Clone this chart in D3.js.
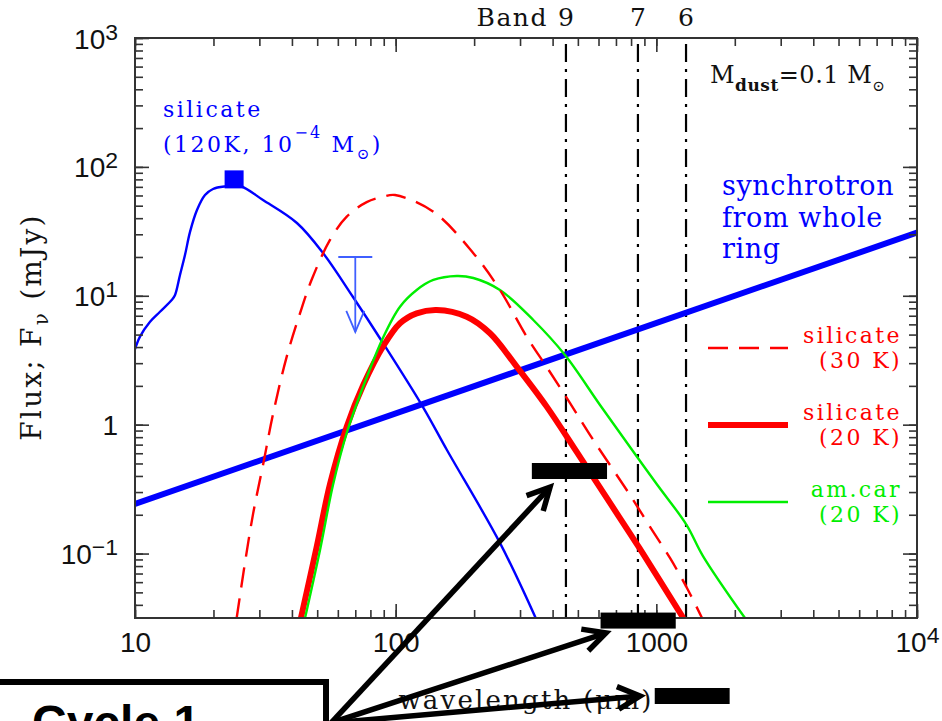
<!DOCTYPE html>
<html><head><meta charset="utf-8">
<script src="https://cdn.jsdelivr.net/npm/d3@7"></script>
<style>
html,body{margin:0;padding:0;background:#fff;overflow:hidden}
svg{display:block}
</style></head><body>
<svg id="chart" width="942" height="721"></svg>
<script>
// ---------------- data (wavelength in micron, flux in mJy) ----------------
const xDomain = [10, 10000];
const yDomain = [0.0316228, 1000];
const xTickVals = [10, 100, 1000, 10000];
const xTickLabels = ["10", "100", "1000", "10^4"];
const yTickVals = [0.1, 1, 10, 100, 1000];
const yTickLabels = ["10^\u22121", "1", "10^1", "10^2", "10^3"];

const syncWave = [10, 10000];
const syncFlux = [0.243, 30.9];

const sil120Wave = [10.0, 10.45, 11.42, 12.47, 13.83, 14.23, 14.88, 15.55, 16.26, 17.29, 18.56, 19.92, 22.14, 25.3, 30.97, 41.8, 52.6, 68.6, 89.4, 127.3, 157.3, 251.2, 344.5];
const sil120Flux = [3.86, 4.82, 6.29, 7.52, 9.28, 10.1, 14.5, 20.7, 31.3, 46.3, 60.5, 67.4, 70.5, 71.1, 55.3, 36.7, 21.5, 9.78, 4.30, 1.37, 0.636, 0.121, 0.0316];

const sil30Wave = [24.55, 26.4, 28.4, 31.07, 33.9, 38.2, 42.95, 47.6, 55.98, 64.9, 77.4, 89.7, 99.4, 139.5, 198.6, 251.2, 318.2, 379.7, 466.6, 573.2, 792, 946, 1128, 1323, 1497];
const sil30Flux = [0.0316, 0.084, 0.205, 0.50, 1.225, 3.37, 7.31, 13.3, 27.1, 41.1, 53.3, 58.7, 60.5, 44.9, 21.4, 11.1, 4.82, 2.80, 1.47, 0.760, 0.285, 0.161, 0.0924, 0.0522, 0.0316];

const sil20Wave = [43.3, 49.8, 56.0, 64.9, 75.1, 89.7, 103.9, 120.4, 143.7, 187.3, 230.1, 291.3, 379.7, 495.0, 664.1, 865.6, 1269];
const sil20Flux = [0.0316, 0.113, 0.3465, 0.965, 2.03, 4.08, 6.12, 7.31, 7.76, 6.88, 5.12, 2.82, 1.38, 0.614, 0.247, 0.1085, 0.0316];

const amcarWave = [44.9, 51.26, 57.48, 65.07, 72.98, 89.7, 103.9, 120.4, 139.5, 171.5, 198.6, 251.2, 337.3, 446.3, 608, 792.4, 1003, 1307, 1510, 2188];
const amcarFlux = [0.0316, 0.1066, 0.340, 0.877, 1.70, 4.79, 8.23, 11.09, 13.26, 14.24, 13.74, 11.09, 6.49, 3.47, 1.421, 0.671, 0.3465, 0.1665, 0.0957, 0.0316];

const peakWave = [24];
const peakFlux = [80];
const limitWave = [70];
const limitFlux = [20];

const bandNames = ["9", "7", "6"];
const bandWaves = [450, 850, 1300];

const legendNames = ["silicate", "silicate", "am.car"];
const legendTemps = ["(30 K)", "(20 K)", "(20 K)"];

// overlay annotation (in data coordinates)
const sensLo = [333, 611, 986];
const sensHi = [647, 1187, 1911];
const sensFlux = [0.437, 0.0302, 0.00785];
const arrowFromWave = 56.5, arrowFromFlux = 0.00485;
const arrowToWave = [391, 641, 866];
const arrowToFlux = [0.328, 0.0242, 0.00785];
const boxWave = 54.05, boxFlux = 0.01008;

// ---------------- drawing ----------------
const svg = d3.select("#chart");
const W = 942, H = 721;
const margin = {left: 135, right: 25, top: 38, bottom: 103};
const x = d3.scaleLog().domain(xDomain).range([margin.left, W - margin.right]);
const y = d3.scaleLog().domain(yDomain).range([H - margin.bottom, margin.top]);
const [X0, X1] = x.range();
const [Y0, Y1] = [y.range()[1], y.range()[0]];

const BLUE = "#0000ff", RED = "#ff0000", GREEN = "#00ee00";
const SERIF = "'DejaVu Serif', serif";
const SANS = "'Liberation Sans', Arial, sans-serif";

svg.append("rect").attr("width", W).attr("height", H).attr("fill", "#fff");

svg.append("defs").append("clipPath").attr("id", "plot")
  .append("rect").attr("x", X0).attr("y", Y0).attr("width", X1 - X0).attr("height", Y1 - Y0);

const zip = (a, b) => a.map((v, i) => [v, b[i]]);
const line = d3.line().x(d => x(d[0])).y(d => y(d[1])).curve(d3.curveCatmullRom.alpha(0.5));

// band lines
const bandG = svg.append("g");
bandWaves.forEach((w, i) => {
  bandG.append("line").attr("x1", x(w)).attr("x2", x(w)).attr("y1", Y0 + 6).attr("y2", Y1)
    .attr("stroke", "#000").attr("stroke-width", 2.2).attr("stroke-dasharray", "18,7,3,7");
  bandG.append("text").attr("x", x(w)).attr("y", 26).attr("text-anchor", "middle")
    .attr("font-family", SERIF).attr("font-size", 25).attr("fill", "#111").text(bandNames[i]);
});
bandG.append("text").attr("x", x(bandWaves[0]) - 18).attr("y", 26).attr("text-anchor", "end")
  .attr("font-family", SERIF).attr("font-size", 25).attr("letter-spacing", 1.5).attr("fill", "#111").text("Band");

// curves
const curves = svg.append("g").attr("clip-path", "url(#plot)");
curves.append("path").datum(zip(syncWave, syncFlux)).attr("d", line)
  .attr("fill", "none").attr("stroke", BLUE).attr("stroke-width", 6);
curves.append("path").datum(zip(sil120Wave, sil120Flux)).attr("d", line)
  .attr("fill", "none").attr("stroke", BLUE).attr("stroke-width", 2.4);
curves.append("path").datum(zip(sil20Wave, sil20Flux)).attr("d", line)
  .attr("fill", "none").attr("stroke", RED).attr("stroke-width", 6);
curves.append("path").datum(zip(amcarWave, amcarFlux)).attr("d", line)
  .attr("fill", "none").attr("stroke", GREEN).attr("stroke-width", 2.4);
curves.append("path").datum(zip(sil30Wave, sil30Flux)).attr("d", line)
  .attr("fill", "none").attr("stroke", RED).attr("stroke-width", 2.4).attr("stroke-dasharray", "20,11");

// peak square
peakWave.forEach((w, i) => {
  svg.append("rect").attr("x", x(w) - 9.5).attr("y", y(peakFlux[i]) - 9).attr("width", 19).attr("height", 18)
    .attr("fill", BLUE);
});
// upper limit
limitWave.forEach((w, i) => {
  const cx = x(w), cy = y(limitFlux[i]);
  const g = svg.append("g").attr("stroke", "#3f5fff").attr("stroke-width", 1.8).attr("fill", "none");
  g.append("line").attr("x1", cx - 17).attr("x2", cx + 17).attr("y1", cy).attr("y2", cy);
  g.append("line").attr("x1", cx).attr("x2", cx).attr("y1", cy).attr("y2", cy + 75);
  g.append("path").attr("d", `M${cx - 9},${cy + 54} L${cx},${cy + 75} L${cx + 9},${cy + 54}`);
});

// axes
const axisColor = "#333";
function styleAxis(g) {
  g.select(".domain").remove();
  g.selectAll(".tick line").attr("stroke", axisColor).attr("stroke-width", 1.6);
  g.selectAll(".tick text").remove();
}
const xMinor = x.ticks(), yMinor = y.ticks();
svg.append("g").attr("transform", `translate(0,${Y1})`)
  .call(d3.axisBottom(x).tickValues(xMinor).tickSize(-8).tickFormat("")).call(styleAxis);
svg.append("g").attr("transform", `translate(0,${Y0})`)
  .call(d3.axisTop(x).tickValues(xMinor).tickSize(-8).tickFormat("")).call(styleAxis);
svg.append("g").attr("transform", `translate(${X0},0)`)
  .call(d3.axisLeft(y).tickValues(yMinor).tickSize(-8).tickFormat("")).call(styleAxis);
svg.append("g").attr("transform", `translate(${X1},0)`)
  .call(d3.axisRight(y).tickValues(yMinor).tickSize(-8).tickFormat("")).call(styleAxis);

const xMajB = svg.append("g").attr("transform", `translate(0,${Y1})`)
  .call(d3.axisBottom(x).tickValues(xTickVals).tickSize(-14).tickFormat("")).call(styleAxis);
svg.append("g").attr("transform", `translate(0,${Y0})`)
  .call(d3.axisTop(x).tickValues(xTickVals).tickSize(-14).tickFormat("")).call(styleAxis);
const yMajL = svg.append("g").attr("transform", `translate(${X0},0)`)
  .call(d3.axisLeft(y).tickValues(yTickVals).tickSize(-14).tickFormat("")).call(styleAxis);
svg.append("g").attr("transform", `translate(${X1},0)`)
  .call(d3.axisRight(y).tickValues(yTickVals).tickSize(-14).tickFormat("")).call(styleAxis);

function powLabel(t, s, fs) {
  const [b, e] = s.split("^");
  t.append("tspan").text(b);
  if (e) t.append("tspan").attr("dy", -9).attr("font-size", fs * 0.82).text(e);
}
xMajB.selectAll(".tick").each(function (d, i) {
  const t = d3.select(this).append("text").attr("x", 0).attr("y", 34)
    .attr("text-anchor", "middle").attr("font-family", SANS).attr("font-size", 28).attr("fill", "#111");
  powLabel(t, xTickLabels[i], 28);
});
yMajL.selectAll(".tick").each(function (d, i) {
  const t = d3.select(this).append("text").attr("x", -17).attr("y", 10)
    .attr("text-anchor", "end").attr("font-family", SANS).attr("font-size", 28).attr("fill", "#111");
  powLabel(t, yTickLabels[i], 28);
});

// frame
svg.append("rect").attr("x", X0).attr("y", Y0).attr("width", X1 - X0).attr("height", Y1 - Y0)
  .attr("fill", "none").attr("stroke", axisColor).attr("stroke-width", 2);

// y axis title
const yt = svg.append("text").attr("transform", `translate(41,327) rotate(-90)`)
  .attr("text-anchor", "middle").attr("font-family", SERIF).attr("font-size", 28)
  .attr("letter-spacing", 2.2).attr("fill", "#111");
yt.append("tspan").text("Flux; F");
yt.append("tspan").attr("dy", 7).attr("font-size", 20).text("\u03bd");
yt.append("tspan").attr("dy", -7).text(" (mJy)");

// blue annotation
const ba = svg.append("g").attr("fill", BLUE).attr("font-family", SERIF);
ba.append("text").attr("x", 163).attr("y", 117).attr("font-size", 22).attr("letter-spacing", 2.5).text("silicate");
const ba2 = ba.append("text").attr("x", 163).attr("y", 152).attr("font-size", 22).attr("letter-spacing", 2.5);
ba2.append("tspan").text("(120K, 10");
ba2.append("tspan").attr("dy", -14).attr("font-size", 16).attr("letter-spacing", 2).text("\u22124");
ba2.append("tspan").attr("dy", 14).text(" M");
ba2.append("tspan").attr("dy", 7).attr("font-size", 15).text("\u2299");
ba2.append("tspan").attr("dy", -7).text(")");

const sy = svg.append("g").attr("fill", BLUE).attr("font-family", SERIF).attr("font-size", 27).attr("letter-spacing", 0.6);
["synchrotron", "from whole", "ring"].forEach((s, i) => {
  sy.append("text").attr("x", 722).attr("y", 195 + i * 31.5).text(s);
});

// M_dust label
const md = svg.append("text").attr("x", 710).attr("y", 83).attr("font-family", SERIF)
  .attr("font-size", 24).attr("fill", "#111").attr("letter-spacing", 0.5);
md.append("tspan").text("M");
md.append("tspan").attr("dy", 8).attr("font-size", 17).attr("font-weight", "bold").text("dust");
md.append("tspan").attr("dy", -8).text("=0.1 M");
md.append("tspan").attr("dy", 8).attr("font-size", 15).text("\u2299");

// legend
const legendStyles = [
  {color: RED, width: 2.4, dash: "20,11"},
  {color: RED, width: 6, dash: null},
  {color: GREEN, width: 2.4, dash: null}
];
legendNames.forEach((n, i) => {
  const ly = 348 + i * 77, st = legendStyles[i];
  svg.append("line").attr("x1", 708).attr("x2", 788).attr("y1", ly).attr("y2", ly)
    .attr("stroke", st.color).attr("stroke-width", st.width).attr("stroke-dasharray", st.dash);
  const g = svg.append("g").attr("fill", st.color).attr("font-family", SERIF).attr("font-size", 22)
    .attr("letter-spacing", 2.4).attr("text-anchor", "end");
  g.append("text").attr("x", 902).attr("y", ly - 5).text(n);
  g.append("text").attr("x", 902).attr("y", ly + 20).text(legendTemps[i]);
});

// x axis title
svg.append("text").attr("x", (X0 + X1) / 2).attr("y", 709).attr("text-anchor", "middle")
  .attr("font-family", SERIF).attr("font-size", 26).attr("letter-spacing", 2.2).attr("fill", "#111")
  .text("wavelength (\u03bcm)");

// overlay annotations
const ov = svg.append("g");
sensLo.forEach((lo, i) => {
  const cy = y(sensFlux[i]);
  ov.append("rect").attr("x", x(lo)).attr("y", cy - 8).attr("width", x(sensHi[i]) - x(lo)).attr("height", 16)
    .attr("fill", "#000");
});
ov.append("rect").attr("x", -20).attr("y", y(boxFlux)).attr("width", x(boxWave) + 20).attr("height", 120)
  .attr("fill", "#fff").attr("stroke", "#000").attr("stroke-width", 6);
ov.append("text").attr("x", 32).attr("y", 739).attr("font-family", SANS).attr("font-weight", "bold")
  .attr("font-size", 48).attr("fill", "#000").text("Cycle 1");
const ox = x(arrowFromWave), oy = y(arrowFromFlux);
arrowToWave.forEach((w, i) => {
  const tx = x(w), ty = y(arrowToFlux[i]);
  const dx = tx - ox, dy = ty - oy, len = Math.hypot(dx, dy);
  const ux = dx / len, uy = dy / len;
  const L = 25, th = 27 * Math.PI / 180;
  const arm = s => {
    const c = Math.cos(s * th), sn = Math.sin(s * th);
    const rx = ux * c - uy * sn, ry = ux * sn + uy * c;
    return [tx - L * rx, ty - L * ry];
  };
  const a1 = arm(1), a2 = arm(-1);
  ov.append("line").attr("x1", ox).attr("y1", oy).attr("x2", tx - ux * 2).attr("y2", ty - uy * 2)
    .attr("stroke", "#000").attr("stroke-width", 5.5);
  ov.append("path").attr("d", `M${a1[0]},${a1[1]} L${tx},${ty} L${a2[0]},${a2[1]}`)
    .attr("fill", "none").attr("stroke", "#000").attr("stroke-width", 5.5).attr("stroke-linejoin", "miter");
});
</script>
</body></html>
